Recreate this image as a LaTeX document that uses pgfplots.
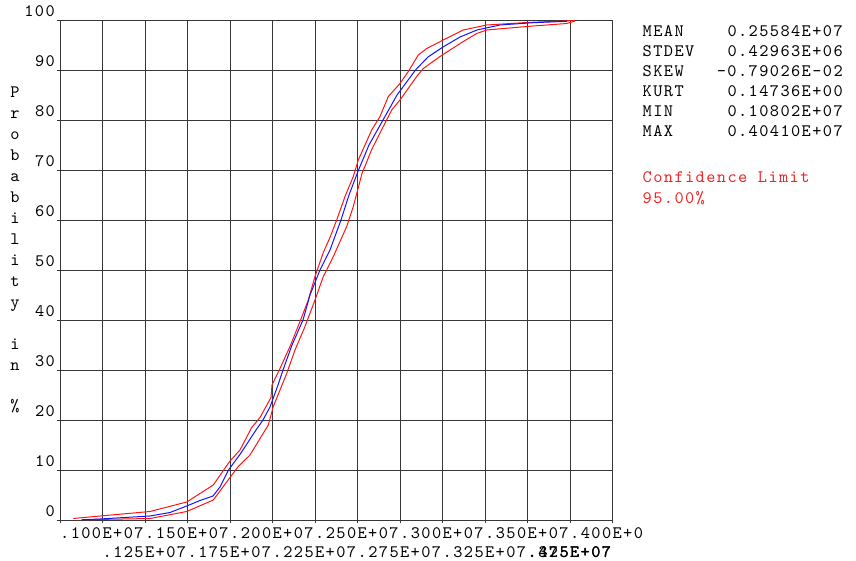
\documentclass[border=0pt]{standalone}
\usepackage{fontspec}
\usepackage{pgfplots}
\pgfplotsset{compat=1.18}

% typewriter face with the wide, even spacing of the plot labels
\newfontfamily\ansys{lmmono10-regular}[Extension=.otf, LetterSpace=8.1, BoldFont=lmmonolt10-bold]
\newcommand\lbl{\ansys\fontsize{17.5}{20}\selectfont}

\definecolor{gridgray}{RGB}{55,55,55}
\definecolor{cdfblue}{RGB}{20,20,255}
\definecolor{cdfred}{RGB}{255,20,20}
\definecolor{conftext}{RGB}{240,35,35}

\begin{document}
\begin{tikzpicture}
\useasboundingbox (0,0) rectangle (856pt,560pt);
\begin{axis}[
  at={(60pt,40pt)}, anchor=south west,
  scale only axis, width=552.5pt, height=500pt,
  xmin=1000000, xmax=4250000, ymin=0, ymax=100,
  scaled x ticks=false,
  xtick={1000000,1500000,2000000,2500000,3000000,3500000,4000000},
  xticklabels={.100E+07,.150E+07,.200E+07,.250E+07,.300E+07,.350E+07,.400E+07},
  extra x ticks={1250000,1750000,2250000,2750000,3250000,3750000,4250000},
  extra x tick labels={.125E+07,.175E+07,.225E+07,.275E+07,.325E+07,{\makebox[0pt][l]{.375E+07}{\bfseries .425E+07}},{}},
  extra x tick style={grid=major, xticklabel style={yshift=-19pt}},
  ytick={0,10,20,30,40,50,60,70,80,90,100},
  yticklabels={0,10,20,30,40,50,60,70,80,90,100},
  grid=major,
  major grid style={gridgray, line width=0.9pt},
  axis line style={gridgray, line width=0.9pt},
  tick style={gridgray, line width=0.9pt},
  tick align=outside, major tick length=3pt,
  tick pos=left,
  xticklabel style={font=\lbl, anchor=north west, inner sep=0pt, yshift=-4pt},
  yticklabel style={font=\lbl, anchor=base east, inner sep=0pt, yshift=3.5pt, xshift=-2pt},
]
% lower confidence bound
\addplot[cdfred, line width=1pt, mark=none] coordinates {
(1127600,0.05) (1529400,0.3) (1745300,1.7) (1901800,4) (2000000,8.5)
(2048800,10.7) (2117600,13) (2225300,19) (2254700,22.7) (2294100,26)
(2333500,29.3) (2382400,34) (2441200,38.7) (2500000,44) (2548800,48.7)
(2568800,50) (2611800,53) (2686500,58.7) (2725300,62.7) (2776500,69.3)
(2832400,74) (2901800,78.7) (2951200,82) (3000000,84) (3098200,88.7)
(3137100,90.3) (3235300,92.7) (3372400,95.7) (3451200,97.3) (3510000,98)
(3745300,98.7) (3980600,99.3) (4029400,99.8)
};
% upper confidence bound
\addplot[cdfred, line width=1pt, mark=none] coordinates {
(1078200,0.3) (1235300,0.8) (1529400,1.7) (1745300,3.6) (1901800,7)
(1958800,9.8) (2000000,11.8) (2058800,14) (2127600,18.5) (2176500,20.5)
(2241200,24.5) (2247100,27) (2294100,30.3) (2352900,34.7) (2411800,39.7)
(2460600,44) (2500000,48.7) (2548800,53.5) (2588200,56.5) (2627600,60)
(2676500,64.7) (2725300,68.7) (2754700,72) (2794100,75) (2833500,78)
(2882400,80.7) (2931200,84.7) (3000000,87.3) (3048800,89.7) (3107600,93)
(3157100,94.3) (3254700,96) (3372400,98) (3510000,99) (3745300,99.5)
(4029400,99.9)
};
% empirical distribution
\addplot[cdfblue, line width=1pt, mark=none] coordinates {
(1129400,0.05) (1235300,0.2) (1429400,0.6) (1529400,0.8) (1647100,1.5)
(1745300,2.8) (1823500,3.9) (1900000,4.8) (1941200,6.6) (1991200,10)
(2064700,13.4) (2152900,18) (2194100,20) (2235300,22.6) (2282400,27)
(2311800,30) (2364700,35) (2429400,40) (2470600,45) (2529400,50)
(2588200,54) (2652900,60) (2700000,65) (2756000,70) (2817600,75)
(2900000,80) (2982400,85) (3091200,90) (3164700,92.6) (3252900,94.6)
(3352900,96.6) (3452900,98) (3588200,99) (3782400,99.46) (3982400,99.74)
};
\end{axis}

% label cut off at the edge of the plot window
\fill[white] (645pt,10pt) rectangle (720pt,40pt);

% vertical axis title, one character per line
\foreach \c [count=\i] in {P,r,o,b,a,b,i,l,i,t,y,{},i,n,{},\%} {
  \node[font=\lbl, anchor=base, inner sep=0pt] at (15pt,{(462-(\i-1)*20.93)*1pt}) {\c};
}

% summary statistics
\begin{scope}[every node/.style={font=\lbl, anchor=base west, inner sep=0pt}]
\node at (642.5pt,523.3pt) {MEAN};  \node at (727.3pt,523.3pt) {0.25584E+07};
\node at (642.5pt,503.3pt) {STDEV}; \node at (727.3pt,503.3pt) {0.42963E+06};
\node at (642.5pt,483.3pt) {SKEW};  \node at (716.7pt,483.3pt) {-0.79026E-02};
\node at (642.5pt,463.3pt) {KURT};  \node at (727.3pt,463.3pt) {0.14736E+00};
\node at (642.5pt,443.3pt) {MIN};   \node at (727.3pt,443.3pt) {0.10802E+07};
\node at (642.5pt,423.3pt) {MAX};   \node at (727.3pt,423.3pt) {0.40410E+07};
\node[text=conftext] at (642.5pt,377pt) {Confidence Limit};
\node[text=conftext] at (642.5pt,356pt) {95.00\%};
\end{scope}
\end{tikzpicture}
\end{document}
